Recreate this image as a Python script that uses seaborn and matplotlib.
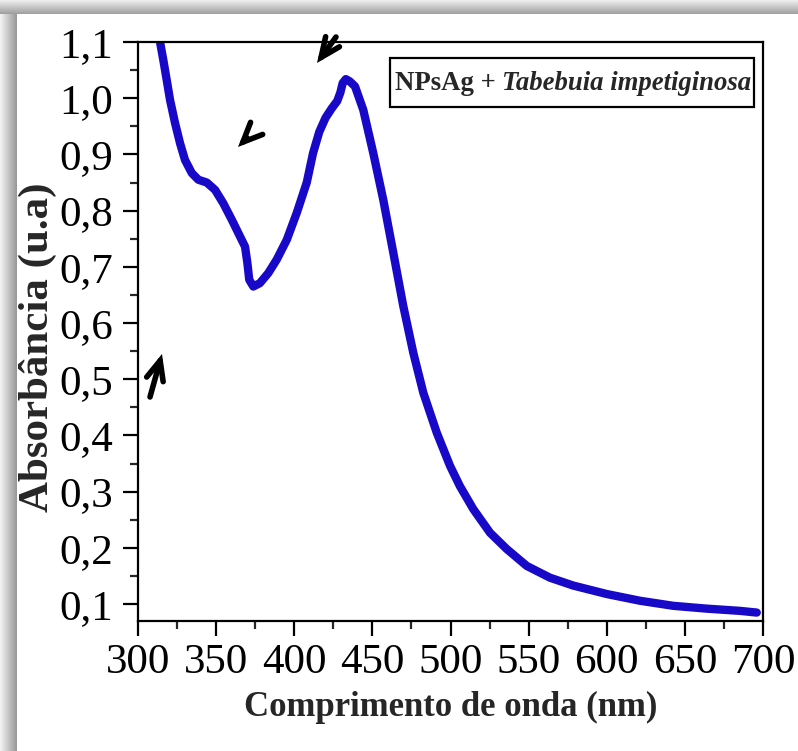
import numpy as np
import pandas as pd
import matplotlib
matplotlib.use("Agg")
import matplotlib.pyplot as plt
from matplotlib.ticker import MultipleLocator, FixedLocator, FixedFormatter
from matplotlib.patches import Rectangle
import seaborn as sns

# UV-Vis absorption spectrum of silver nanoparticles
wavelength_nm = [312, 314.1, 316.2, 318.4, 320.5, 323.7, 326.9, 330.1, 334.4,
                 338.6, 344, 349.3, 354.6, 360, 365.3, 368.5, 370, 371.2, 373.8,
                 378, 383.4, 388.8, 395.2, 401.6, 408, 412, 416, 420, 424, 427.5,
                 429.5, 431, 433, 435.5, 438.9, 444.2, 450.6, 457, 463.4, 469.8,
                 476.2, 482.6, 491.2, 499.7, 506, 514.6, 525.3, 536, 548.8, 563.7,
                 578.6, 600, 621.3, 642.6, 663.9, 685.4, 696]
absorbance = [1.135, 1.1, 1.068, 1.032, 0.997, 0.956, 0.92, 0.89, 0.867,
              0.855, 0.85, 0.837, 0.813, 0.784, 0.754, 0.736, 0.707, 0.677, 0.665,
              0.671, 0.689, 0.713, 0.748, 0.796, 0.85, 0.902, 0.94, 0.965, 0.982,
              0.995, 1.01, 1.027, 1.034, 1.03, 1.021, 0.979, 0.902, 0.819, 0.725,
              0.63, 0.547, 0.476, 0.405, 0.346, 0.31, 0.269, 0.227, 0.198, 0.168,
              0.147, 0.133, 0.118, 0.106, 0.097, 0.092, 0.088, 0.085]

x_ticks = [300, 350, 400, 450, 500, 550, 600, 650, 700]
y_ticks = [0.1, 0.2, 0.3, 0.4, 0.5, 0.6, 0.7, 0.8, 0.9, 1.0, 1.1]
y_tick_labels = ["0,1", "0,2", "0,3", "0,4", "0,5", "0,6", "0,7", "0,8", "0,9", "1,0", "1,1"]

df = pd.DataFrame({"wl": wavelength_nm, "abs": absorbance})

sns.set_style("ticks")
plt.rcParams["font.family"] = ["Liberation Serif", "DejaVu Serif"]

W, H = 798, 751
fig = plt.figure(figsize=(W / 100, H / 100), dpi=100)

# soft grey shadow along the top and left edges of the picture frame
bg = fig.add_axes([0, 0, 1, 1], zorder=-5)
img = np.ones((H, W, 3))
top = 14
left = 17
for r in range(top):
    g = 0.93 - 0.30 * (r / (top - 1))
    img[r, :, :] = g
for c in range(left):
    g = 0.95 - 0.35 * (c / (left - 1))
    img[top:, c, :] = g
bg.imshow(img, extent=(0, W, 0, H), aspect="auto", interpolation="bilinear")
bg.set_xlim(0, W)
bg.set_ylim(0, H)
bg.axis("off")

ax = fig.add_axes([138 / W, 1 - 621 / H, (763 - 138) / W, (621 - 42) / H])
ax.set_facecolor("white")

sns.lineplot(data=df, x="wl", y="abs", ax=ax, color="#1808c8", linewidth=6,
             sort=False, estimator=None, solid_joinstyle="round",
             solid_capstyle="round")

ax.set_xlim(300, 700)
ax.set_ylim(0.07, 1.1)
ax.xaxis.set_major_locator(FixedLocator(x_ticks))
ax.xaxis.set_minor_locator(MultipleLocator(25))
ax.yaxis.set_major_locator(FixedLocator(y_ticks))
ax.yaxis.set_major_formatter(FixedFormatter(y_tick_labels))
ax.yaxis.set_minor_locator(MultipleLocator(0.05))

for side in ["top", "right", "bottom", "left"]:
    ax.spines[side].set_visible(True)
    ax.spines[side].set_linewidth(1.6)
    ax.spines[side].set_color("black")

ax.tick_params(which="major", direction="out", length=11, width=1.6,
               labelsize=31, colors="black", pad=5)
ax.tick_params(which="minor", direction="out", length=6, width=1.6)
ax.tick_params(axis="x", which="both", top=False)
ax.tick_params(axis="y", which="both", right=False)
ax.tick_params(axis="y", which="major", pad=7)

ax.set_xlabel("Comprimento de onda (nm)", fontsize=25, fontweight="bold", labelpad=7)
ax.set_ylabel("Absorbância (u.a)", fontsize=31, fontweight="bold")
ax.yaxis.set_label_coords(-0.13, 0.472)

# sample label in a framed box
t1 = fig.text(395 / W, 1 - 83 / H, "NPsAg + ", fontsize=19.3, fontweight="bold",
              ha="left", va="center")
t2 = fig.text(0, 0, "Tabebuia impetiginosa", fontsize=19.3, fontweight="bold",
              style="italic", ha="left", va="bottom")
fig.canvas.draw()
r = fig.canvas.get_renderer()
b1 = t1.get_window_extent(r)
t2.set_position((b1.x1 / W, b1.y0 / H))
fig.patches.append(Rectangle((390 / W, 1 - 107 / H), 364 / W, 49 / H,
                             transform=fig.transFigure, fill=False,
                             edgecolor="black", linewidth=1.6))

# hand-drawn pointer arrows
arrows = [((317, H - 63), (336, H - 37)),
          ((238, H - 147), (247, H - 138)),
          ((162, H - 354), (150, H - 397))]
for tip, tail in arrows:
    ax.annotate("", xy=tip, xytext=tail, xycoords="figure pixels",
                textcoords="figure pixels", annotation_clip=False,
                arrowprops=dict(arrowstyle="->,head_length=0.5,head_width=0.22",
                                color="black", lw=4, mutation_scale=28,
                                shrinkA=0, shrinkB=0, capstyle="round",
                                joinstyle="miter"))

fig.savefig("out.png", dpi=100)
